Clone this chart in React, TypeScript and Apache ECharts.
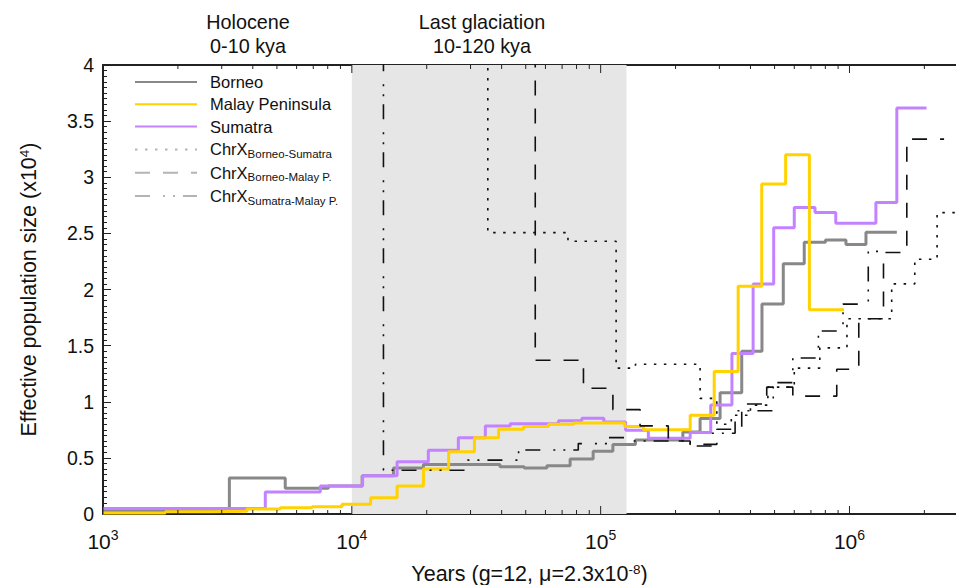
import React, { useEffect, useRef } from "react";
import * as echarts from "echarts";

const FONT = "'Liberation Sans', Arial, Helvetica, sans-serif";

// Years before present (step start times) and effective population size (x10^4)
const borneoYears = [1000, 3220, 5400, 8050, 11000, 14700, 19400, 39400, 49300, 60800, 75400, 93300, 112000, 138000, 214000, 251000, 302000, 369000, 445000, 542000, 658000, 801000, 968000, 1165000, 1550000];
const borneoNe = [0.03, 0.32, 0.23, 0.25, 0.34, 0.41, 0.44, 0.42, 0.41, 0.43, 0.49, 0.56, 0.62, 0.66, 0.73, 0.85, 1.08, 1.45, 1.87, 2.23, 2.42, 2.44, 2.4, 2.51, 2.51];

const malayYears = [1000, 1780, 2750, 3790, 5160, 6920, 9130, 11900, 15200, 19400, 24500, 31100, 38900, 49000, 61700, 77800, 125000, 148600, 229000, 286000, 357000, 444000, 554000, 690000, 950000];
const malayNe = [0.01, 0.02, 0.025, 0.045, 0.055, 0.065, 0.086, 0.145, 0.25, 0.4, 0.555, 0.68, 0.755, 0.78, 0.8, 0.81, 0.78, 0.75, 0.88, 1.27, 2.03, 2.94, 3.2, 1.82, 1.82];

const sumatraYears = [1000, 4490, 7470, 11050, 15200, 20300, 26800, 34400, 43300, 67700, 84000, 103000, 126000, 155500, 229000, 277000, 337000, 410000, 496000, 600000, 727000, 881000, 1277000, 1550000, 2040000];
const sumatraNe = [0.05, 0.196, 0.25, 0.34, 0.465, 0.568, 0.68, 0.785, 0.805, 0.83, 0.852, 0.82, 0.745, 0.675, 0.725, 0.97, 1.43, 2.05, 2.55, 2.73, 2.685, 2.59, 2.775, 3.616, 3.616];

const chrxBSYears = [1000, 35200, 73900, 115400, 138000, 251000, 293000, 335000, 400000, 470000, 600000, 760000, 977000, 1478000, 1830000, 2250000, 2800000];
const chrxBSNe = [5, 2.507, 2.43, 1.3, 1.334, 1.03, 0.8, 0.88, 0.97, 1.13, 1.3, 1.48, 1.74, 2.05, 2.27, 2.685, 2.685];

const chrxBMYears = [1000, 54600, 85300, 112000, 144000, 187000, 229000, 293000, 369000, 465000, 592000, 889000, 1090000, 1370000, 1700000, 2400000];
const chrxBMNe = [5, 1.37, 1.12, 0.93, 0.785, 0.65, 0.62, 0.755, 0.98, 1.13, 1.05, 1.29, 1.74, 2.33, 3.34, 3.34];

const chrxSMYears = [1000, 13400, 29200, 46800, 81300, 107000, 129000, 229000, 280000, 347000, 494000, 592000, 750000, 942000, 1190000, 1370000];
const chrxSMNe = [5, 0.39, 0.48, 0.57, 0.627, 0.68, 0.65, 0.606, 0.72, 0.92, 1.17, 1.39, 1.63, 1.87, 2.34, 2.34];

const seriesNames = ["Borneo", "Malay Peninsula", "Sumatra", "ChrX Borneo-Sumatra", "ChrX Borneo-Malay P.", "ChrX Sumatra-Malay P."];

const xMajorTicks = [1e3, 1e4, 1e5, 1e6];
const xMinorTicks = [
  2e3, 3e3, 4e3, 5e3, 6e3, 7e3, 8e3, 9e3,
  2e4, 3e4, 4e4, 5e4, 6e4, 7e4, 8e4, 9e4,
  2e5, 3e5, 4e5, 5e5, 6e5, 7e5, 8e5, 9e5,
  2e6,
];
const xMin = 1000;
const xMax = 2.68e6;
const yMin = 0;
const yMax = 4;
const yInterval = 0.5;

const glaciationRange = [1e4, 1.27e5];
const periodNames = ["Holocene", "Last glaciation"];
const periodSpans = ["0-10 kya", "10-120 kya"];

function pairs(xs: number[], ys: number[]) {
  return xs.map((x, i) => [x, ys[i]]);
}

export default function App() {
  const ref = useRef<HTMLDivElement>(null);

  useEffect(() => {
    if (!ref.current) return;
    const chart = echarts.init(ref.current, undefined, { renderer: "svg" });

    const mainLine = (name: string, xs: number[], ys: number[], color: string, z: number) => ({
      type: "line",
      name,
      data: pairs(xs, ys),
      step: "end",
      symbol: "none",
      color,
      lineStyle: { color, width: 3 },
      z,
    });
    const chrxLine = (name: string, xs: number[], ys: number[], dash: number[]) => ({
      type: "line",
      name,
      data: pairs(xs, ys),
      step: "end",
      symbol: "none",
      color: "#111",
      lineStyle: { color: "#111", width: 1.6, type: dash },
      z: 6,
    });

    const legendLight = "#b4b4b4";
    const hiddenSymbol = { opacity: 0, color: "rgba(0,0,0,0)", borderWidth: 0 };

    const option: any = {
      animation: false,
      textStyle: { fontFamily: FONT },
      grid: { left: 103, right: 0, top: 65, bottom: 71, containLabel: false, outerBoundsMode: "none" },
      legend: {
        orient: "vertical",
        left: 134,
        top: 72,
        padding: 0,
        itemWidth: 62,
        itemHeight: 14,
        itemGap: 2.3,
        selectedMode: false,
        itemStyle: hiddenSymbol,
        data: [
          { name: seriesNames[0], itemStyle: hiddenSymbol },
          { name: seriesNames[1], itemStyle: hiddenSymbol },
          { name: seriesNames[2], itemStyle: hiddenSymbol },
          { name: seriesNames[3], itemStyle: hiddenSymbol, lineStyle: { color: legendLight } },
          { name: seriesNames[4], itemStyle: hiddenSymbol, lineStyle: { color: legendLight } },
          { name: seriesNames[5], itemStyle: hiddenSymbol, lineStyle: { color: legendLight } },
        ],
        formatter: (name: string) => {
          if (name.startsWith("ChrX ")) return "ChrX{sub|" + name.slice(5) + "}";
          return name;
        },
        textStyle: {
          fontFamily: FONT,
          fontSize: 16.5,
          lineHeight: 20,
          color: "#111",
          padding: [0, 0, 0, 8],
          rich: {
            sub: { fontFamily: FONT, fontSize: 11.5, lineHeight: 11, padding: [9, 0, 0, 0], color: "#111" },
          },
        },
      },
      xAxis: [
        {
          type: "log",
          logBase: 10,
          min: xMin,
          max: xMax,
          position: "bottom",
          axisLine: { show: true, onZero: false, lineStyle: { color: "#222", width: 2 } },
          axisTick: { show: false },
          splitLine: { show: false },
          axisLabel: {
            showMaxLabel: false,
            margin: 14,
            color: "#111",
            fontFamily: FONT,
            fontSize: 21,
            lineHeight: 26,
            formatter: (v: number) => {
              const e = Math.log10(v);
              if (Math.abs(e - Math.round(e)) < 1e-6) return "10{sup|" + Math.round(e) + "}";
              return "";
            },
            rich: {
              sup: { fontFamily: FONT, fontSize: 14, lineHeight: 14, verticalAlign: "top", color: "#111" },
            },
          },
          name: "Years (g=12, μ=2.3x10{sup|-8})",
          nameLocation: "middle",
          nameGap: 48,
          nameTextStyle: {
            color: "#111",
            fontFamily: FONT,
            fontSize: 21.5,
            lineHeight: 24,
            rich: { sup: { fontFamily: FONT, fontSize: 13.5, lineHeight: 13, verticalAlign: "top", color: "#111" } },
          },
        },
        {
          type: "log",
          logBase: 10,
          min: xMin,
          max: xMax,
          position: "top",
          axisLine: { show: true, onZero: false, lineStyle: { color: "#222", width: 2 } },
          axisTick: { show: false },
          axisLabel: { show: false },
          splitLine: { show: false },
        },
      ],
      yAxis: {
        type: "value",
        min: yMin,
        max: yMax,
        interval: yInterval,
        axisLine: { show: true, lineStyle: { color: "#222", width: 2 } },
        axisTick: { show: true, inside: true, length: 8, lineStyle: { color: "#222", width: 1 } },
        minorTick: { show: true, splitNumber: 10, length: 4, lineStyle: { color: "#222", width: 1 } },
        splitLine: { show: false },
        axisLabel: { color: "#111", fontFamily: FONT, fontSize: 19.5, margin: 9 },
        name: "Effective population size (x10{sup|4})",
        nameLocation: "middle",
        nameGap: 62,
        nameTextStyle: {
          color: "#111",
          fontFamily: FONT,
          fontSize: 21.5,
          lineHeight: 24,
          rich: { sup: { fontFamily: FONT, fontSize: 13.5, lineHeight: 13, verticalAlign: "top", color: "#111" } },
        },
      },
      graphic: [
        {
          type: "text",
          x: 248,
          y: 10,
          silent: true,
          style: {
            text: periodNames[0] + "\n" + periodSpans[0],
            align: "center",
            verticalAlign: "top",
            fontFamily: FONT,
            fontSize: 19.8,
            lineHeight: 24,
            fill: "#111",
          },
        },
        {
          type: "text",
          x: 482,
          y: 10,
          silent: true,
          style: {
            text: periodNames[1] + "\n" + periodSpans[1],
            align: "center",
            verticalAlign: "top",
            fontFamily: FONT,
            fontSize: 19.8,
            lineHeight: 24,
            fill: "#111",
          },
        },
      ],
      series: [
        {
          type: "line",
          name: "glaciation",
          data: [[glaciationRange[0], -1]],
          symbol: "none",
          lineStyle: { opacity: 0 },
          z: 1,
          silent: true,
          markArea: {
            silent: true,
            itemStyle: { color: "#e6e6e6" },
            data: [[{ xAxis: glaciationRange[0] }, { xAxis: glaciationRange[1] }]],
          },
        },
        mainLine(seriesNames[0], borneoYears, borneoNe, "#888888", 3),
        mainLine(seriesNames[2], sumatraYears, sumatraNe, "#c382ff", 4),
        mainLine(seriesNames[1], malayYears, malayNe, "#ffd200", 5),
        chrxLine(seriesNames[3], chrxBSYears, chrxBSNe, [2.5, 7.5]),
        chrxLine(seriesNames[4], chrxBMYears, chrxBMNe, [15, 13]),
        chrxLine(seriesNames[5], chrxSMYears, chrxSMNe, [15, 13, 2, 8, 2, 8]),
        {
          type: "custom",
          name: "ticks",
          silent: true,
          clip: false,
          z: 10,
          data: [...xMajorTicks.map((v) => [v, 1]), ...xMinorTicks.map((v) => [v, 0])],
          encode: { x: 0 },
          renderItem: (params: any, api: any) => {
            const v = api.value(0);
            const len = api.value(1) === 1 ? 8 : 4;
            const b = api.coord([v, yMin]);
            const t = api.coord([v, yMax]);
            return {
              type: "group",
              children: [
                { type: "line", shape: { x1: b[0], y1: b[1], x2: b[0], y2: b[1] - len }, style: { stroke: "#222", lineWidth: 1 } },
                { type: "line", shape: { x1: t[0], y1: t[1], x2: t[0], y2: t[1] + len }, style: { stroke: "#222", lineWidth: 1 } },
              ],
            };
          },
        },
      ],
    };

    chart.setOption(option);
    return () => chart.dispose();
  }, []);

  return <div ref={ref} style={{ position: "absolute", left: 0, top: 0, width: 956, height: 585, background: "#fff" }} />;
}
